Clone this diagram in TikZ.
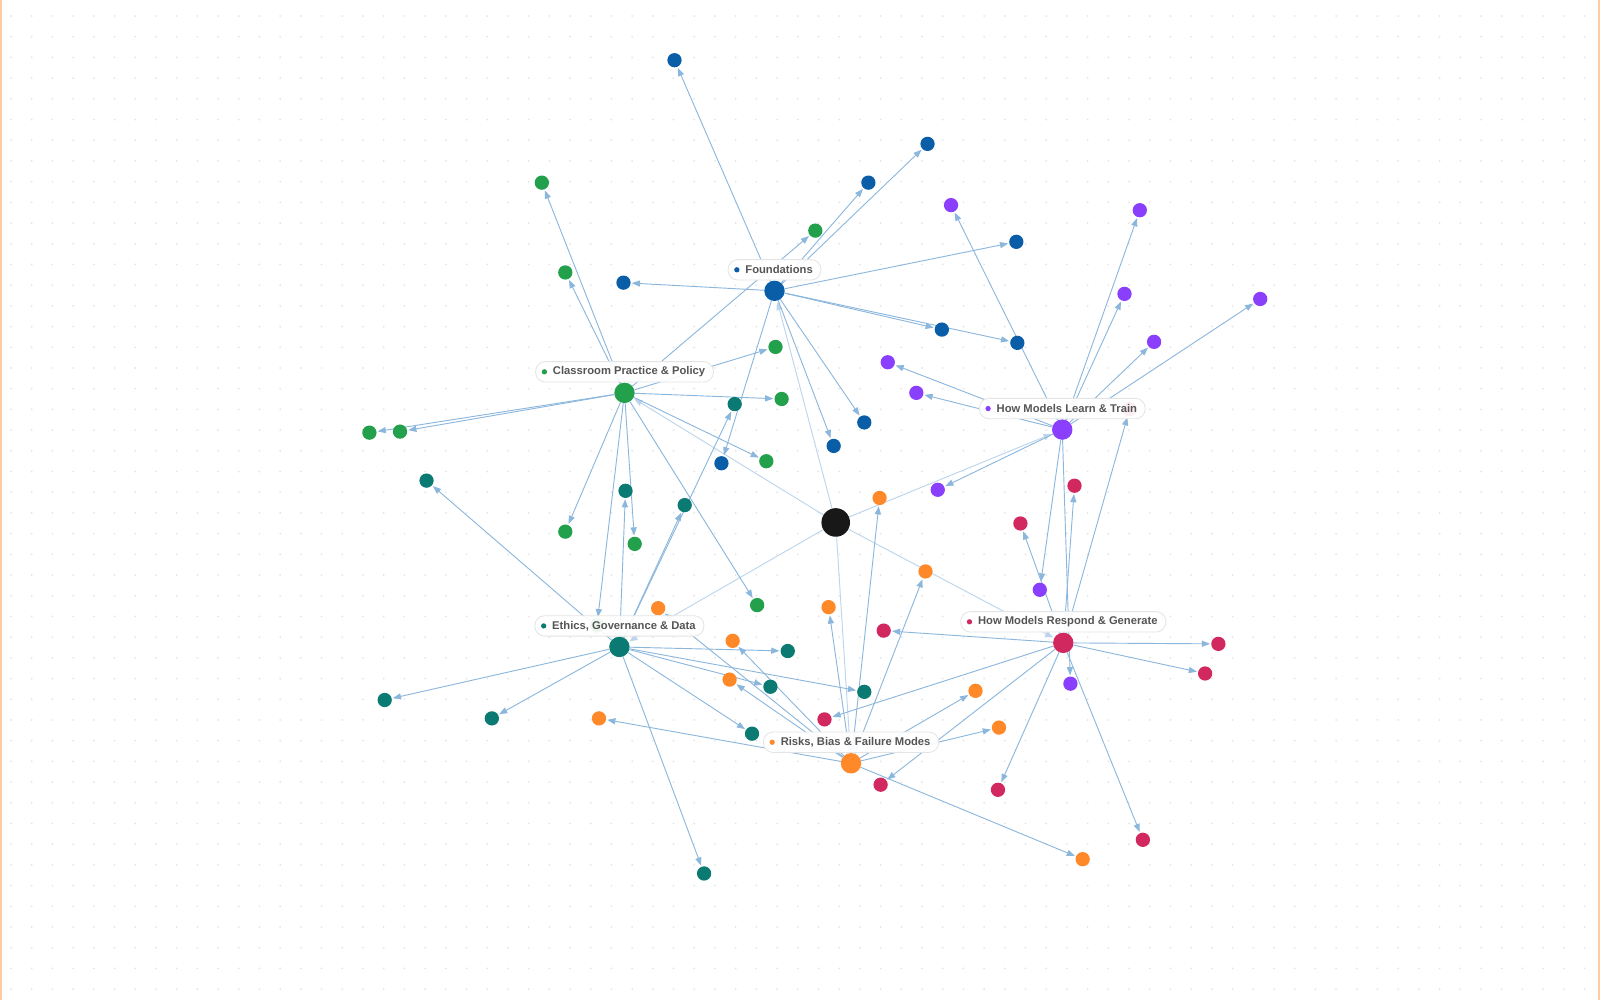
\documentclass[tikz,border=0pt]{standalone}
\usepackage{fontspec}
\setmainfont{Liberation Sans}
\usetikzlibrary{arrows.meta,positioning}

\definecolor{cfound}{RGB}{10,94,168}
\definecolor{cclass}{RGB}{35,160,75}
\definecolor{clearn}{RGB}{138,63,252}
\definecolor{cethics}{RGB}{10,122,115}
\definecolor{crespond}{RGB}{208,40,95}
\definecolor{crisks}{RGB}{255,136,40}
\definecolor{ccore}{RGB}{24,24,24}
\definecolor{linkblue}{RGB}{140,183,221}
\definecolor{spokeblue}{RGB}{188,213,236}
\definecolor{pillgray}{RGB}{228,228,228}
\definecolor{labgray}{RGB}{85,85,85}
\definecolor{griddot}{RGB}{230,230,230}
\definecolor{frameorange}{RGB}{255,204,160}

\pgfdeclarelayer{grid}
\pgfdeclarelayer{links}
\pgfsetlayers{grid,links,main}

\tikzset{
  leaf/.style={circle, inner sep=0pt, minimum size=14pt},
  hub/.style={circle, inner sep=0pt, minimum size=20pt},
  pill/.style={draw=pillgray, fill=white, fill opacity=0.92, text opacity=1,
    rounded corners=9.5pt, line width=0.8pt, minimum height=20pt,
    inner xsep=8pt, inner ysep=0pt, text=labgray,
    font=\fontsize{11}{13}\selectfont\bfseries},
  link/.style={draw=linkblue, line width=0.9pt,
    -{Triangle[length=8pt,width=6pt]}, shorten >=1pt},
  spoke/.style={draw=spokeblue, line width=0.9pt,
    -{Triangle[length=8pt,width=6pt]}, shorten >=1pt},
}

\begin{document}
\begin{tikzpicture}[x=1pt,y=-1pt]
	\useasboundingbox (0,0) rectangle (1568,980);
	\begin{pgfonlayer}{grid}
		\fill[white] (0,0) rectangle (1568,980);
		\foreach \i in {0,...,76}
			\foreach \j in {0,...,47}
				\fill[griddot] (10.8+\i*20.29,15.7+\j*20.29) circle (1pt);
		\fill[frameorange] (0,0) rectangle (1.6,980);
		\fill[frameorange] (1566.4,0) rectangle (1568,980);
	\end{pgfonlayer}

	% leaves
	\foreach \n/\x/\y in {f1/661/59, f2/851/179, f3/909/141, f4/996/237, f5/611/277,
		f6/923/323, f7/997/336, f8/847/414, f9/817/437, f10/707/454}
		\node[leaf, fill=cfound] (\n) at (\x,\y) {};
	\foreach \n/\x/\y in {c1/531/179, c2/554/267, c3/362/424, c4/392/423, c5/760/340,
		c6/766/391, c7/751/452, c8/554/521, c9/622/533, c10/742/593, c11/799/226, c12/585/613}
		\node[leaf, fill=cclass] (\n) at (\x,\y) {};
	\foreach \n/\x/\y in {l1/932/201, l2/1117/206, l3/1102/288, l4/1131/335, l5/1235/293,
		l6/870/355, l7/898/385, l8/919/480, l9/1019/578, l10/1049/670}
		\node[leaf, fill=clearn] (\n) at (\x,\y) {};
	\foreach \n/\x/\y in {e1/418/471, e2/377/686, e3/482/704, e4/690/856, e5/772/638,
		e6/755/673, e7/737/719, e8/847/678, e9/720/396, e10/671/495, e11/613/481}
		\node[leaf, fill=cethics] (\n) at (\x,\y) {};
	\foreach \n/\x/\y in {r1/1053/476, r2/1000/513, r3/1194/631, r4/1181/660, r5/1120/823,
		r6/978/774, r7/866/618, r8/808/705, r9/863/769, r10/1107/401}
		\node[leaf, fill=crespond] (\n) at (\x,\y) {};
	\foreach \n/\x/\y in {k1/862/488, k2/907/560, k3/812/595, k4/718/628, k5/715/666,
		k6/587/704, k7/956/677, k8/979/713, k9/1061/842, k10/645/596}
		\node[leaf, fill=crisks] (\n) at (\x,\y) {};

	% hubs and core
	\node[circle, inner sep=0pt, minimum size=28pt, fill=ccore] (core) at (819,512) {};
	\node[hub, fill=cfound] (found) at (759,285) {};
	\node[hub, fill=cclass] (class) at (612,385) {};
	\node[hub, fill=clearn] (learn) at (1041,421) {};
	\node[hub, fill=cethics] (ethics) at (607,634) {};
	\node[hub, fill=crespond] (respond) at (1042,630) {};
	\node[hub, fill=crisks] (risks) at (834,748) {};

	% labels
	\foreach \h/\c/\t in {found/cfound/Foundations, class/cclass/Classroom Practice \& Policy,
		learn/clearn/How Models Learn \& Train, ethics/cethics/{Ethics, Governance \& Data},
		respond/crespond/How Models Respond \& Generate, risks/crisks/{Risks, Bias \& Failure Modes}}
	{
		\node[pill, above=0pt of \h] (\h lab) {\hspace*{9pt}\t};
		\fill[\c] ([xshift=9pt]\h lab.west) circle (2.6pt);
	}

	\begin{pgfonlayer}{links}
		\foreach \h in {found,class,learn,ethics,respond,risks}
			\draw[spoke] (core) -- (\h);
		\foreach \i in {1,...,10}
			\draw[link] (found) -- (f\i);
		\foreach \i in {1,...,12}
			\draw[link] (class) -- (c\i);
		\foreach \i in {1,...,10}
			\draw[link] (learn) -- (l\i);
		\foreach \i in {1,...,11}
			\draw[link] (ethics) -- (e\i);
		\foreach \i in {1,...,10}
			\draw[link] (respond) -- (r\i);
		\foreach \i in {1,...,10}
			\draw[link] (risks) -- (k\i);
	\end{pgfonlayer}
\end{tikzpicture}
\end{document}
